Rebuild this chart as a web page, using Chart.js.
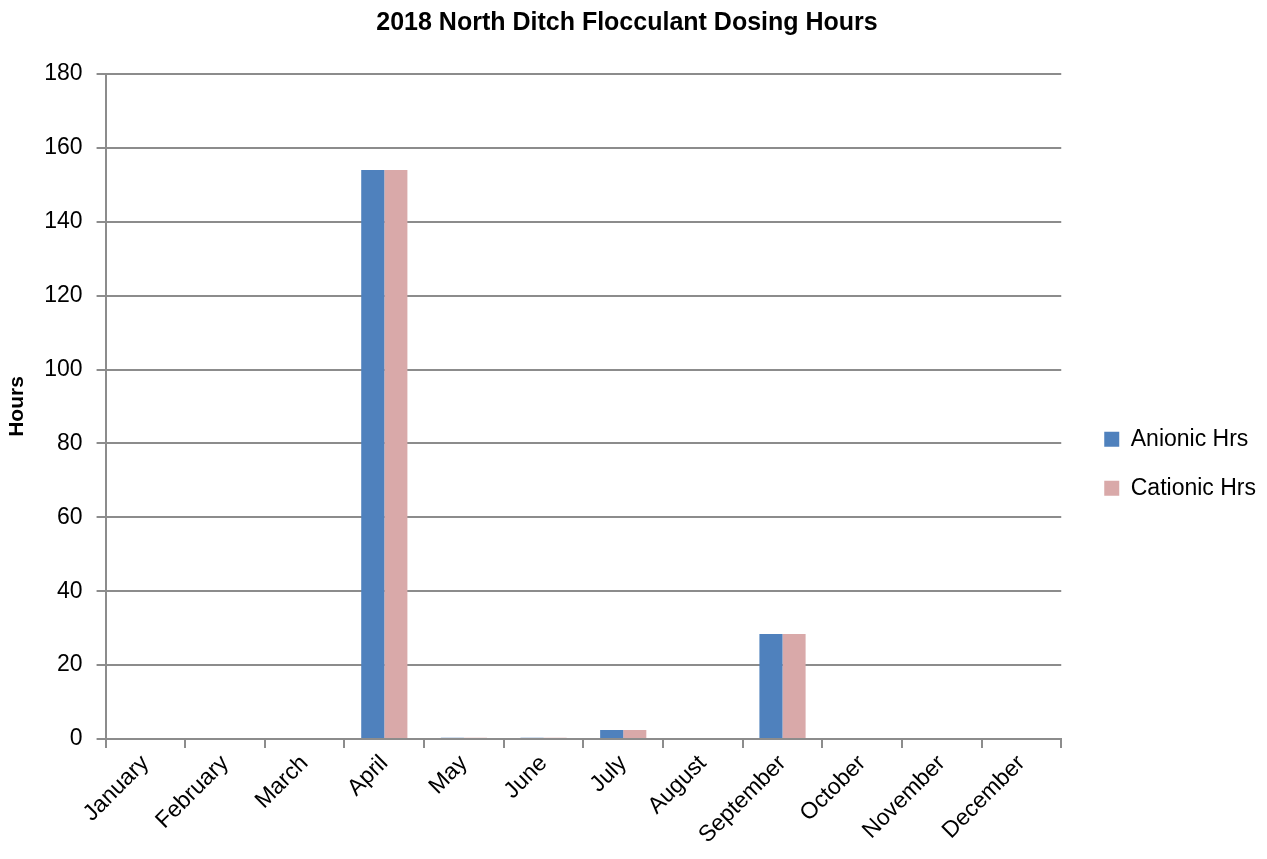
<!DOCTYPE html>
<html>
<head>
<meta charset="utf-8">
<script src="https://cdn.jsdelivr.net/npm/chart.js@4.4.0/dist/chart.umd.min.js"></script>
<style>
    html, body { margin: 0; padding: 0; background: #ffffff; }
    #wrap { width: 1267px; height: 859px; }
</style>
</head>
<body>
<div id="wrap"><canvas id="dosingChart" width="1267" height="859"></canvas></div>
<script>
// Chart data
const months = ['January', 'February', 'March', 'April', 'May', 'June',
    'July', 'August', 'September', 'October', 'November', 'December'];
const anionicHrs = [0, 0, 0, 154, 0.3, 0.3, 2.4, 0, 28.4, 0, 0, 0];
const cationicHrs = [0, 0, 0, 154, 0.3, 0.3, 2.4, 0, 28.4, 0, 0, 0];
const yTicks = [0, 20, 40, 60, 80, 100, 120, 140, 160, 180];

const fontFamily = '"Liberation Sans", Arial, sans-serif';
const gridColor = '#8c8c8c';

// Nudge the legend right so it sits further from the plot, like the original
const legendShift = {
    id: 'legendShift',
    afterLayout(chart) {
        chart.legend.left += 17;
        chart.legend.right += 17;
    }
};

const ctx = document.getElementById('dosingChart').getContext('2d');
const dosingChart = new Chart(ctx, {
    type: 'bar',
    data: {
        labels: months,
        datasets: [{
            label: 'Anionic Hrs',
            data: anionicHrs,
            backgroundColor: '#4f81bd',
            borderWidth: 0
        }, {
            label: 'Cationic Hrs',
            data: cationicHrs,
            backgroundColor: '#d9a9a9',
            borderWidth: 0
        }]
    },
    options: {
        responsive: false,
        animation: false,
        layout: {
            padding: { left: 5, right: 18, top: 0, bottom: 8 }
        },
        datasets: {
            bar: {
                categoryPercentage: 0.58,
                barPercentage: 1.0
            }
        },
        scales: {
            x: {
                grid: {
                    offset: true,
                    drawOnChartArea: false,
                    drawTicks: true,
                    tickLength: 9,
                    color: gridColor,
                    lineWidth: 2
                },
                border: { color: gridColor, width: 2 },
                ticks: {
                    color: '#000000',
                    font: { family: fontFamily, size: 23 },
                    maxRotation: 45,
                    minRotation: 45,
                    padding: 2
                }
            },
            y: {
                min: 0,
                max: 180,
                afterBuildTicks: function(axis) {
                    axis.ticks = yTicks.map(v => ({ value: v }));
                },
                grid: {
                    color: gridColor,
                    lineWidth: 2,
                    drawTicks: true,
                    tickLength: 9
                },
                border: { color: gridColor, width: 2 },
                ticks: {
                    color: '#000000',
                    font: { family: fontFamily, size: 23 },
                    padding: 14
                },
                title: {
                    display: true,
                    text: 'Hours',
                    color: '#000000',
                    font: { family: fontFamily, size: 21, weight: 'bold' },
                    padding: { top: 0, bottom: 0 }
                }
            }
        },
        plugins: {
            title: {
                display: true,
                text: '2018 North Ditch Flocculant Dosing Hours',
                color: '#000000',
                font: { family: fontFamily, size: 25, weight: 'bold' },
                padding: { top: 8, bottom: 36 }
            },
            legend: {
                position: 'right',
                title: {
                    display: true,
                    text: ' ',
                    font: { size: 2 },
                    padding: { top: 0, bottom: 74 }
                },
                labels: {
                    color: '#000000',
                    font: { family: fontFamily, size: 23 },
                    boxWidth: 15,
                    boxHeight: 15,
                    padding: 26
                }
            },
            tooltip: { enabled: false }
        }
    },
    plugins: [legendShift]
});
</script>
</body>
</html>
